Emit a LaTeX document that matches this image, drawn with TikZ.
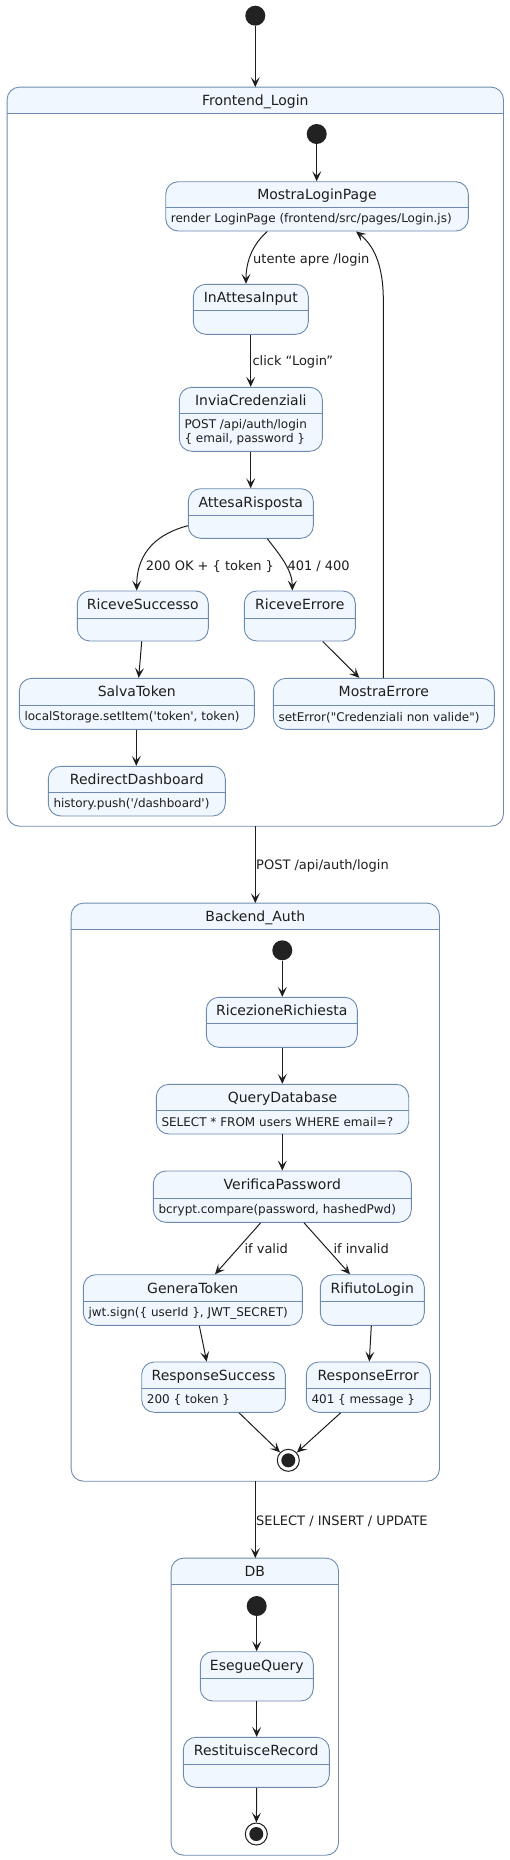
\documentclass[tikz,border=0pt]{standalone}
\usepackage{fontspec}
\setmainfont{DejaVu Sans}[Ligatures=TeXOff]
\usetikzlibrary{arrows.meta,fit}
\definecolor{stfill}{HTML}{F0F7FE}
\definecolor{stborder}{HTML}{6E8BAF}
\definecolor{arr}{HTML}{1E1E1E}
\definecolor{dot}{HTML}{222222}
\tikzset{
 stbox/.style={draw=stborder, fill=stfill, line width=0.9pt, rounded corners=12.5pt, inner sep=0pt},
 contbox/.style={fill=white, rounded corners=12.5pt, inner sep=0pt},
 sepline/.style={draw=stborder, line width=0.9pt},
 ttl/.style={font=\fontsize{14}{16}\selectfont, anchor=base, inner sep=0pt, yshift=-5pt, text=arr},
 bdy/.style={font=\fontsize{12}{14}\selectfont, anchor=west, inner sep=0pt, align=left, text=arr},
 lbl/.style={font=\fontsize{13}{15}\selectfont, anchor=base west, inner sep=0pt, yshift=-4.7pt, text=arr},
 tr/.style={draw=arr, line width=1pt, -{Stealth[length=10pt,width=9pt,inset=4.5pt]}},
 initst/.style={circle, fill=dot, minimum size=20pt, inner sep=0pt},
 finalst/.style={circle, draw=arr, fill=white, line width=1pt, minimum size=22pt, inner sep=0pt,
   path picture={\fill[dot] (path picture bounding box.center) circle (7pt);}},
}
\newcommand\mkstate[8]{%
 \node[stbox, fit={(#2,#3)(#4,#5)}] (#1) {};
 \draw[sepline] (#2,#6) -- (#4,#6);
 \node[ttl] (#1-t) at ({(#2+#4)/2},{(#3+#6)/2}) {#7};
 \node[bdy] (#1-b) at ({#2+5},{(#6+#5)/2}) {#8};
}
\newcommand\mkstateE[7]{%
 \node[stbox, fit={(#2,#3)(#4,#5)}] (#1) {};
 \draw[sepline] (#2,#6) -- (#4,#6);
 \node[ttl] (#1-t) at ({(#2+#4)/2},{(#3+#6)/2}) {#7};
}
\newcommand\mkcont[7]{%
 \node[contbox, fit={(#2,#3)(#4,#5)}] (#1) {};
 \begin{scope}
  \clip[rounded corners=12.5pt] (#2,#3) rectangle (#4,#5);
  \fill[stfill] (#2,#3) rectangle (#4,#6);
 \end{scope}
 \draw[sepline] (#2,#6) -- (#4,#6);
 \draw[sepline, rounded corners=12.5pt] (#1.north west) rectangle (#1.south east);
 \node[ttl] (#1-t) at ({(#2+#4)/2},{(#3+#6)/2}) {#7};
}
\begin{document}
\begin{tikzpicture}[x=1pt,y=-1pt]
\useasboundingbox (0,0) rectangle (509,1860);
% containers
\mkcont{FL}{7.3}{87.3}{503.3}{826}{113.3}{Frontend\_Login}
\mkcont{BA}{71.3}{903.3}{439.3}{1481}{929.3}{Backend\_Auth}
\mkcont{DB}{171.3}{1558.3}{338.3}{1855}{1584.3}{DB}
% initial / final
\node[initst] (i0) at (255.3,15.7) {};
\node[initst] (iFL) at (316.7,134) {};
\node[initst] (iBA) at (282.3,950.3) {};
\node[initst] (iDB) at (256.7,1606) {};
\node[finalst] (fBA) at (288.3,1460.3) {};
\node[finalst] (fDB) at (256.3,1834) {};
% Frontend states
\mkstate{MLP}{165.7}{181.7}{468.3}{231}{207.3}{MostraLoginPage}{render LoginPage (frontend/src/pages/Login.js)}
\mkstateE{IAI}{193.3}{284.3}{308.3}{334.3}{310.3}{InAttesaInput}
\mkstate{IC}{179.3}{387.3}{322.3}{451.3}{413.7}{InviaCredenziali}{POST /api/auth/login\\\{ email, password \}}
\mkstateE{AR}{188.3}{488.7}{313.3}{538.3}{515.3}{AttesaRisposta}
\mkstateE{RS}{77.3}{591}{208.3}{641}{618.7}{RiceveSuccesso}
\mkstateE{RE}{244.3}{591}{355.3}{641}{618.7}{RiceveErrore}
\mkstate{ST}{19.3}{678.3}{254.3}{729.3}{705.3}{SalvaToken}{localStorage.setItem('token', token)}
\mkstate{ME}{273.3}{678.3}{494.3}{729.3}{705.3}{MostraErrore}{setError("Credenziali non valide")}
\mkstate{RD}{48.3}{766.3}{225.3}{816}{792.3}{RedirectDashboard}{history.push('/dashboard')}
% Backend states
\mkstateE{RR}{206.3}{997.3}{357.3}{1047.3}{1023.3}{RicezioneRichiesta}
\mkstate{QD}{156.3}{1084.3}{408.7}{1134}{1110.3}{QueryDatabase}{SELECT * FROM users WHERE email=?}
\mkstate{VP}{153.3}{1171}{411.3}{1222.3}{1198.3}{VerificaPassword}{bcrypt.compare(password, hashedPwd)}
\mkstate{GT}{83.3}{1274.7}{302.3}{1325.3}{1301.7}{GeneraToken}{jwt.sign(\{ userId \}, JWT\_SECRET)}
\mkstateE{RL}{320.3}{1274.7}{424.3}{1325.3}{1301.7}{RifiutoLogin}
\mkstate{RSu}{141.7}{1362}{285.3}{1412.3}{1388.3}{ResponseSuccess}{200 \{ token \}}
\mkstate{REr}{306.3}{1362}{430.3}{1412.3}{1388.3}{ResponseError}{401 \{ message \}}
% DB states
\mkstateE{EQ}{200.3}{1651.7}{313.3}{1701}{1678.3}{EsegueQuery}
\mkstateE{RRc}{183.3}{1737.3}{329.3}{1787.3}{1764.3}{RestituisceRecord}
% transitions
\draw[tr] (i0) -- (i0 |- FL.north);
\draw[tr] (iFL) -- (iFL |- MLP.north);
\draw[tr] (MLP.south -| 267.3,0) .. controls (252,245) and (246,262) .. (IAI.north -| 246,0);
\node[lbl] (l1) at (253,258.7) {utente apre /login};
\draw[tr] (IAI.south -| 250.7,0) -- (IC.north -| 250.7,0);
\node[lbl] (l2) at (252.3,361) {click “Login”};
\draw[tr] (IC.south -| 250.7,0) -- (AR.north -| 250.7,0);
\draw[tr] (AR.west |- 0,525.7) .. controls (160,533) and (136.7,550) .. (RS.north -| 136.7,0);
\node[lbl] (l3) at (145.7,565.3) {200 OK + \{ token \}};
\draw[tr] (AR.south -| 267.3,0) .. controls (280,555) and (292.3,570) .. (RE.north -| 292.3,0);
\node[lbl] (l4) at (287.3,565.3) {401 / 400};
\draw[tr] (RS.south -| 141.7,0) -- (ST.north -| 138.7,0);
\draw[tr] (RE.south -| 322.7,0) -- (ME.north -| 359.3,0);
\draw[tr] (ST.south -| 136.3,0) -- (RD.north -| 136.3,0);
\draw[tr] (ME.north -| 383.3,0) -- (383.3,300) .. controls (383.3,262) and (372,244) .. (MLP.south -| 356,0);
\draw[tr] (FL.south -| 255.3,0) -- (BA.north -| 255.3,0);
\node[lbl] (l5) at (256,864.3) {POST /api/auth/login};
\draw[tr] (iBA) -- (iBA |- RR.north);
\draw[tr] (RR.south -| 282.3,0) -- (QD.north -| 282.3,0);
\draw[tr] (QD.south -| 282.3,0) -- (VP.north -| 282.3,0);
\draw[tr] (VP.south -| 260.7,0) -- (GT.north -| 215,0);
\node[lbl] (l6) at (244.3,1248.3) {if valid};
\draw[tr] (VP.south -| 304,0) -- (RL.north -| 350,0);
\node[lbl] (l7) at (333.3,1248.3) {if invalid};
\draw[tr] (GT.south -| 199.3,0) -- (RSu.north -| 206.7,0);
\draw[tr] (RL.south -| 371.3,0) -- (REr.north -| 369.3,0);
\draw[tr] (RSu.south -| 239,0) -- (fBA);
\draw[tr] (REr.south -| 340.7,0) -- (fBA);
\draw[tr] (BA.south -| 255.3,0) -- (DB.north -| 255.3,0);
\node[lbl] (l8) at (256,1520.3) {SELECT / INSERT / UPDATE};
\draw[tr] (iDB) -- (iDB |- EQ.north);
\draw[tr] (EQ.south -| 256.7,0) -- (RRc.north -| 256.7,0);
\draw[tr] (RRc.south -| 256.7,0) -- (fDB);
\end{tikzpicture}
\end{document}
